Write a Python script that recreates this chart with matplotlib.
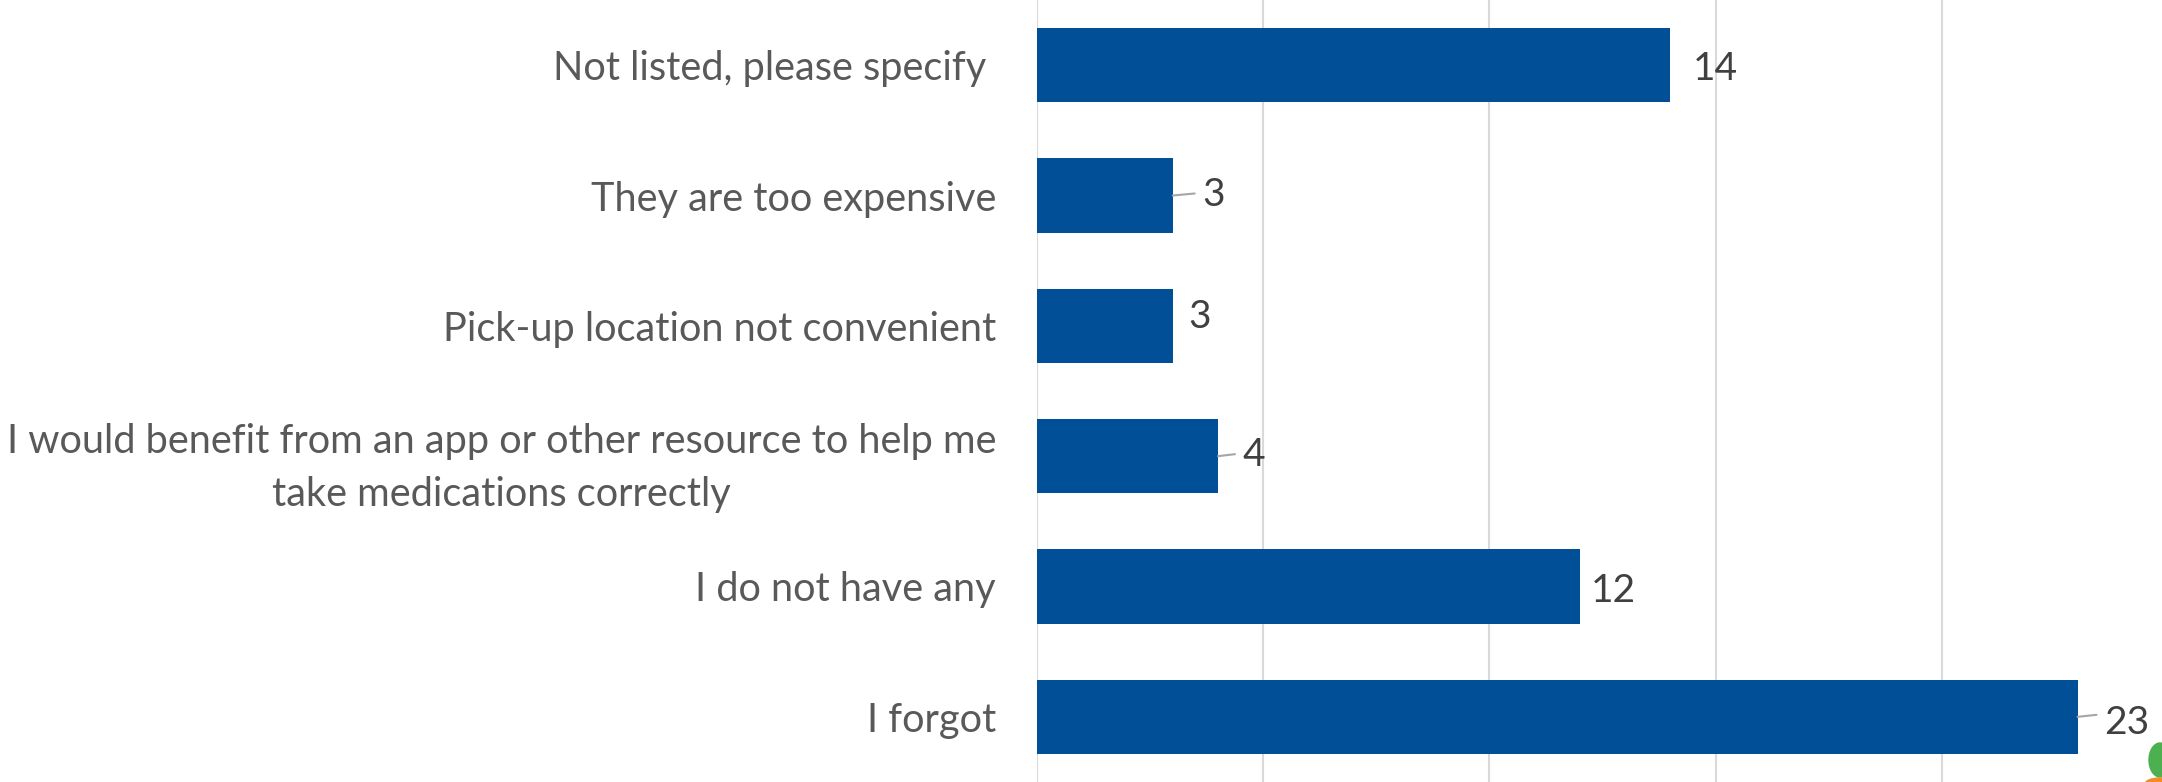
import matplotlib
matplotlib.use("Agg")
import matplotlib.pyplot as plt
from matplotlib.patches import Ellipse

# ---- data ----
categories = [
    "Not listed, please specify ",
    "They are too expensive",
    "Pick-up location not convenient",
    "I would benefit from an app or other resource to help me\ntake medications correctly",
    "I do not have any",
    "I forgot",
]
values = [14, 3, 3, 4, 12, 23]
x_ticks = [0, 5, 10, 15, 20, 25]

# ---- label placement styling (pixel offsets, leader line flags) ----
label_dx = [22, 30, 16, 25, 11, 27]
label_dy = [-4, 0, 9, 1, -5, -6]
leader = [False, True, False, True, False, True]

W, H, DPI = 2162, 782, 100
fig = plt.figure(figsize=(W / DPI, H / DPI), dpi=DPI)
fig.patch.set_facecolor("white")

left_px = 1037
ax = fig.add_axes([left_px / W, 0, (2168 - left_px) / W, 1])
ax.set_xlim(0, 25)
ax.set_ylim(len(categories) - 0.5, -0.5)

bar_color = "#004F97"
y = list(range(len(categories)))
ax.barh(y, values, height=0.57, color=bar_color, zorder=3)

ax.set_xticks(x_ticks)
ax.xaxis.grid(True, color="#D9D9D9", linewidth=1.5, zorder=0)
ax.tick_params(axis="x", length=0, labelbottom=False)
for s in ax.spines.values():
    s.set_visible(False)

FONT = "Lato"
ax.set_yticks(y)
ax.set_yticklabels(categories, fontsize=28.6, color="#595959", family=FONT,
                   linespacing=1.53, multialignment="center")
ax.tick_params(axis="y", length=0, pad=29.5)

px2pt = 72.0 / DPI
for i, v in enumerate(values):
    dx, dy = label_dx[i], label_dy[i]
    ax.annotate(str(v), xy=(v, i), xytext=(dx * px2pt, dy * px2pt),
                textcoords="offset points", ha="left", va="center",
                fontsize=28, color="#404040", family=FONT, zorder=5)
    if leader[i]:
        ax.annotate("", xy=(v, i), xytext=((dx - 8) * px2pt, 2 * px2pt),
                    textcoords="offset points",
                    arrowprops=dict(arrowstyle="-", color="#A6A6A6", lw=1.5,
                                    shrinkA=0, shrinkB=0), zorder=4)

# logo fragment at the bottom right corner
fig.patches.append(Ellipse((2160 / W, 1 - 760 / H), 22 / W, 34 / H,
                           transform=fig.transFigure, color="#4CAF50", zorder=10))
fig.patches.append(Ellipse((2160 / W, 1 - 784 / H), 30 / W, 12 / H,
                           transform=fig.transFigure, color="#F28C28", zorder=10))

fig.savefig("out.png", dpi=DPI, facecolor="white")
